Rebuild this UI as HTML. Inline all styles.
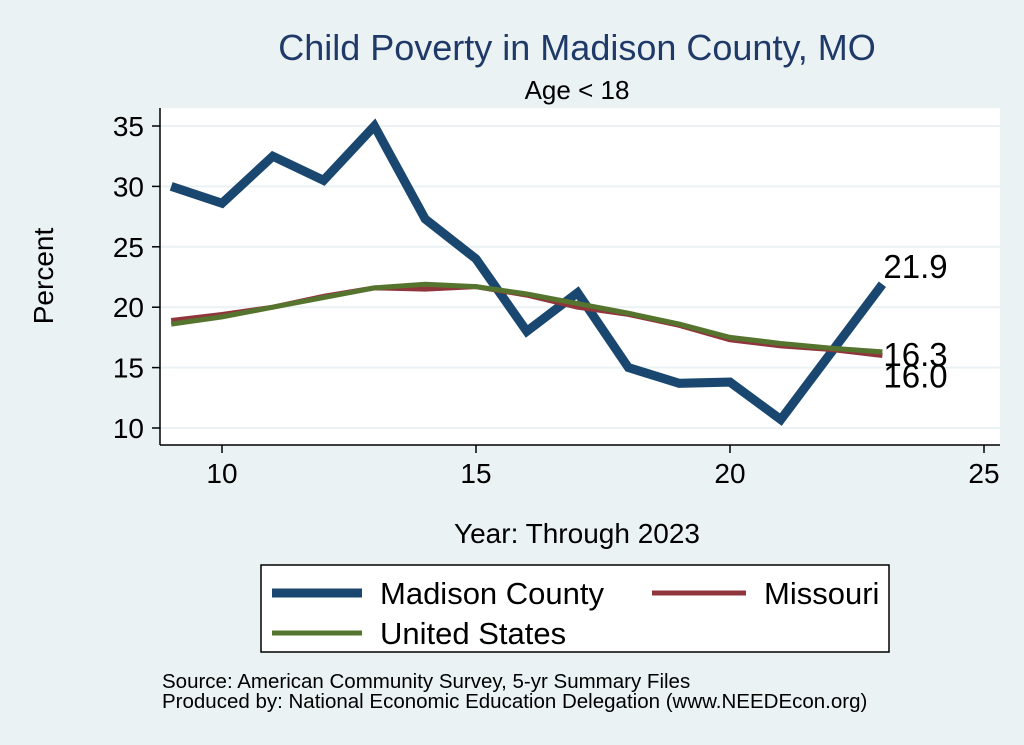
<!DOCTYPE html>
<html><head><meta charset="utf-8"><style>
body{margin:0;background:#eaf2f3;}
svg{display:block;font-family:"Liberation Sans",sans-serif;}
</style></head><body>
<svg id="chart" width="1024" height="745">
<rect x="0" y="0" width="1024" height="745" fill="#eaf2f3"/>
<rect x="160" y="108" width="840" height="337" fill="#fff"/>
<text x="577" y="60" font-size="36" fill="#1f3a68" text-anchor="middle">Child Poverty in Madison County, MO</text>
<text x="577" y="99" font-size="26" fill="#000" text-anchor="middle">Age &lt; 18</text>
<text x="53" y="276" font-size="28" text-anchor="middle" transform="rotate(-90 53 276)">Percent</text>
<text x="577" y="543" font-size="28" text-anchor="middle">Year: Through 2023</text>
<g id="grid"></g><g id="axes"></g><g id="series"></g>
<g>
<rect x="261" y="565" width="628" height="87" fill="#fff" stroke="#000" stroke-width="1.5"/>
<line x1="272" y1="593" x2="362" y2="593" stroke="#1a476f" stroke-width="9"/>
<text x="380" y="604" font-size="31">Madison County</text>
<line x1="652" y1="593" x2="746" y2="593" stroke="#90353b" stroke-width="5"/>
<text x="764" y="604" font-size="31">Missouri</text>
<line x1="272" y1="633" x2="362" y2="633" stroke="#55752f" stroke-width="5"/>
<text x="380" y="644" font-size="31">United States</text>
</g>
<text x="162" y="688" font-size="20.5">Source: American Community Survey, 5-yr Summary Files</text>
<text x="162" y="708" font-size="20.5">Produced by: National Economic Education Delegation (www.NEEDEcon.org)</text>
</svg>
<script>
const years=[9,10,11,12,13,14,15,16,17,18,19,20,21,22,23];
const madison=[30,28.6,32.5,30.5,35,27.3,24,18,21.2,15,13.7,13.8,10.7,16.3,21.9];
const missouri=[18.9,19.4,20,20.9,21.6,21.5,21.7,21,20,19.4,18.5,17.3,16.8,16.5,16.0];
const us=[18.6,19.2,20,20.8,21.6,21.9,21.7,21.1,20.3,19.5,18.6,17.5,17,16.6,16.3];
const xTicks=[10,15,20,25];
const yTicks=[10,15,20,25,30,35];
const NS='http://www.w3.org/2000/svg';
function xs(v){return 222+(v-10)*50.8;}
function ys(v){return 428-(v-10)*12.08;}
function mk(tag,attrs,parent,text){const e=document.createElementNS(NS,tag);for(const k in attrs)e.setAttribute(k,attrs[k]);if(text!==undefined)e.textContent=text;parent.appendChild(e);return e;}
const grid=document.getElementById('grid'),axes=document.getElementById('axes'),ser=document.getElementById('series');
yTicks.forEach(t=>{
 const g=mk('line',{x1:160,x2:1000,y1:ys(t),y2:ys(t),stroke:'#eaf2f3','stroke-width':2},grid);
 
 
 const tk=mk('line',{x1:152,x2:160,y1:ys(t),y2:ys(t),stroke:'#000','stroke-width':1.5},axes);
 
 
 const l=mk('text',{x:144,y:ys(t)+10,'font-size':28,'text-anchor':'end'},axes,String(t));
 
 
});
xTicks.forEach(t=>{
 const tk=mk('line',{x1:xs(t),x2:xs(t),y1:445,y2:453,stroke:'#000','stroke-width':1.5},axes);
 
 
 const l=mk('text',{x:xs(t),y:483,'font-size':28,'text-anchor':'middle'},axes,String(t));
 
 
});
const ya=mk('line',{x1:160,x2:160,y1:108,y2:445,stroke:'#000','stroke-width':1.5},axes);


const xa=mk('line',{x1:160,x2:1000,y1:445,y2:445,stroke:'#000','stroke-width':1.5},axes);


function line(vals,color,w,name){
 const p=mk('polyline',{points:vals.map((v,i)=>xs(years[i])+','+ys(v)).join(' '),fill:'none',stroke:color,'stroke-width':w,'stroke-linejoin':'miter'},ser);
 
 
}
line(madison,'#1a476f',9,'line-madison');
line(missouri,'#90353b',5,'line-missouri');
line(us,'#55752f',5,'line-us');
const n=years.length-1;
const lbls=[[madison[n],-6,'label-madison-last'],[us[n],14,'label-us-last'],[missouri[n],32,'label-missouri-last']];
lbls.forEach(([v,dy,nm])=>{
 const t=mk('text',{x:xs(years[n])+1,y:ys(v)+dy,'font-size':33},ser,v.toFixed(1));
 
 
});
</script>
</body></html>
